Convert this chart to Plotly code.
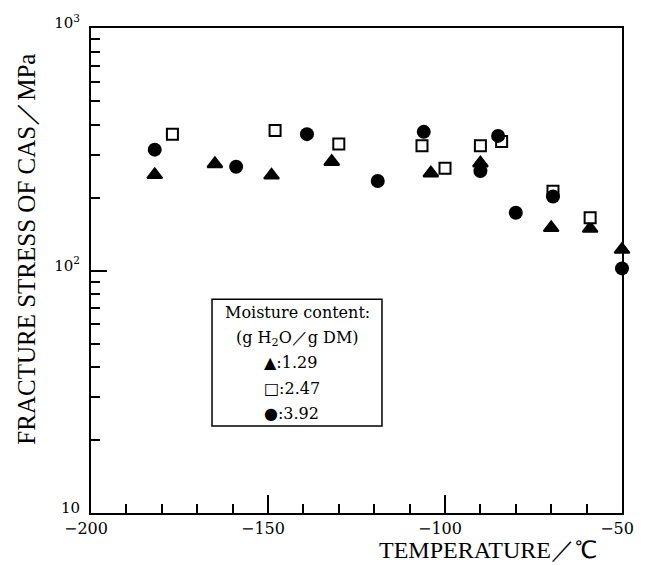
import plotly.graph_objects as go

# ---- data ----
temp_129 = [-182, -165, -149, -132, -104, -90, -70, -59, -50]
stress_129 = [248, 275, 247, 281, 252, 277, 150, 149, 122]

temp_247 = [-177, -148, -130, -106.5, -100, -90, -84, -69.5, -59]
stress_247 = [365, 378, 332, 327, 264, 327, 340, 212, 165]

temp_392 = [-182, -159, -139, -119, -106, -90, -85, -80, -69.5, -50]
stress_392 = [315, 268, 365, 234, 373, 257, 359, 173, 202, 102]

x_ticks = [-200, -150, -100, -50]
x_tick_text = ["\u2212200", "\u2212150", "\u2212100", "\u221250"]
y_ticks = [10, 100, 1000]
y_tick_text = ["10", "10<sup>2</sup>", "10<sup>3</sup>"]
y_minor = [v * m for m in (10, 100) for v in range(2, 10)]

legend_title = ["Moisture content:", "(g H<sub>2</sub>O\uff0fg DM)"]
legend_rows = ["\u25b2:1.29", "\u25a1:2.47", "\u25cf:3.92"]

SERIF = "DejaVu Serif"
TITLE_FONT = "Liberation Serif"

fig = go.Figure()
fig.add_trace(go.Scatter(x=temp_129, y=stress_129, mode="markers", name="1.29",
                         cliponaxis=False,
                         marker=dict(symbol="triangle-up", size=13, color="black",
                                     line=dict(color="black", width=2))))
fig.add_trace(go.Scatter(x=temp_247, y=stress_247, mode="markers", name="2.47",
                         cliponaxis=False,
                         marker=dict(symbol="square", size=11, color="white",
                                     line=dict(color="black", width=2))))
fig.add_trace(go.Scatter(x=temp_392, y=stress_392, mode="markers", name="3.92",
                         cliponaxis=False,
                         marker=dict(symbol="circle", size=14, color="black",
                                     line=dict(color="black", width=0))))

fig.update_layout(
    width=647, height=565,
    margin=dict(l=91, r=25, t=23, b=52),
    paper_bgcolor="white", plot_bgcolor="white",
    showlegend=False,
    xaxis=dict(range=[-200, -50], tickmode="array", tickvals=x_ticks, ticktext=x_tick_text,
               ticks="inside", ticklen=18, tickwidth=2, tickcolor="black",
               ticklabelshift=-5,
               minor=dict(dtick=10, tick0=-200, ticks="inside", ticklen=9, tickwidth=2,
                          tickcolor="black", showgrid=False),
               showline=True, linewidth=2, linecolor="black", mirror=True,
               showgrid=False, zeroline=False,
               tickfont=dict(family=SERIF, size=16, color="black")),
    yaxis=dict(type="log", range=[1, 3], tickmode="array", tickvals=y_ticks, ticktext=y_tick_text,
               ticks="inside", ticklen=16, tickwidth=2, tickcolor="black",
               ticklabelshift=-5, ticklabelstandoff=6,
               minor=dict(tickmode="array", tickvals=y_minor, ticks="inside", ticklen=9,
                          tickwidth=2, tickcolor="black", showgrid=False),
               showline=True, linewidth=2, linecolor="black", mirror=True,
               showgrid=False, zeroline=False,
               tickfont=dict(family=SERIF, size=15, color="black")),
)

annotations = [
    dict(text="FRACTURE STRESS OF CAS\uff0fMPa", xref="paper", yref="paper",
         x=-0.1205, y=0.543, xanchor="center", yanchor="middle", textangle=-90,
         showarrow=False, font=dict(family=TITLE_FONT, size=25, color="black")),
    dict(text="TEMPERATURE\uff0f\u2103", xref="paper", yref="paper",
         x=0.748, y=-0.0755, xanchor="center", yanchor="middle",
         showarrow=False, font=dict(family=TITLE_FONT, size=24, color="black")),
]
title_y = [0.414, 0.359]
for txt, yy in zip(legend_title, title_y):
    annotations.append(dict(text=txt, xref="paper", yref="paper", x=0.388, y=yy,
                            xanchor="center", yanchor="middle", showarrow=False,
                            font=dict(family=SERIF, size=16, color="black")))
row_y = [0.310, 0.2565, 0.206]
for txt, yy in zip(legend_rows, row_y):
    annotations.append(dict(text=txt, xref="paper", yref="paper", x=0.322, y=yy,
                            xanchor="left", yanchor="middle", showarrow=False,
                            font=dict(family=SERIF, size=16, color="black")))
fig.update_layout(annotations=annotations)

fig.add_shape(type="rect", xref="paper", yref="paper",
              x0=0.2279, x1=0.548, y0=0.1796, y1=0.4408,
              line=dict(color="black", width=1.5), fillcolor="rgba(0,0,0,0)")

fig.write_html("out.html")
